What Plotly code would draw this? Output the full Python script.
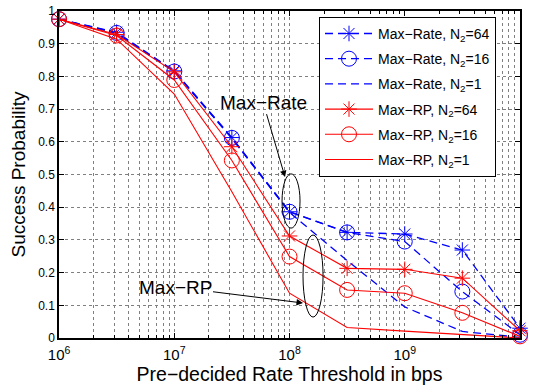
import plotly.graph_objects as go

# Pre-decided rate thresholds (bps) and success probabilities per scheme
thresholds = [1e6, 3.16e6, 1e7, 3.16e7, 1e8, 3.16e8, 1e9, 3.16e9, 1e10]

maxrate_n64 = [0.975, 0.935, 0.817, 0.613, 0.386, 0.323, 0.318, 0.269, 0.030]
maxrate_n16 = [0.975, 0.933, 0.815, 0.612, 0.386, 0.323, 0.295, 0.142, 0.010]
maxrate_n1 = [0.975, 0.932, 0.815, 0.610, 0.384, 0.237, 0.095, 0.020, 0.002]

maxrp_n64 = [0.975, 0.928, 0.814, 0.585, 0.312, 0.213, 0.210, 0.183, 0.022]
maxrp_n16 = [0.975, 0.925, 0.789, 0.543, 0.249, 0.147, 0.137, 0.077, 0.005]
maxrp_n1 = [0.975, 0.914, 0.746, 0.447, 0.137, 0.032, 0.021, 0.011, 0.000]

y_ticks = [0, 0.1, 0.2, 0.3, 0.4, 0.5, 0.6, 0.7, 0.8, 0.9, 1]
y_tick_text = ["0", "0.1", "0.2", "0.3", "0.4", "0.5", "0.6", "0.7", "0.8", "0.9", "1"]

BLUE = "#0000ff"
RED = "#ff0000"
FONT = "Liberation Sans, Arial, sans-serif"

fig = go.Figure()

series = [
    ("Max\u2212Rate, N<sub>2</sub>=64", maxrate_n64, BLUE, "8px,5px", "asterisk-open", 13),
    ("Max\u2212Rate, N<sub>2</sub>=16", maxrate_n16, BLUE, "8px,5px", "circle-open", 15),
    ("Max\u2212Rate, N<sub>2</sub>=1", maxrate_n1, BLUE, "8px,5px", None, 0),
    ("Max\u2212RP, N<sub>2</sub>=64", maxrp_n64, RED, "solid", "asterisk-open", 13),
    ("Max\u2212RP, N<sub>2</sub>=16", maxrp_n16, RED, "solid", "circle-open", 15),
    ("Max\u2212RP, N<sub>2</sub>=1", maxrp_n1, RED, "solid", None, 0),
]

for i, (name, vals, color, dash, symbol, size) in enumerate(series):
    kw = dict(mode="lines")
    if symbol:
        kw = dict(mode="lines+markers",
                  marker=dict(symbol=symbol, size=size, color=color,
                              line=dict(color=color, width=1)))
    fig.add_trace(go.Scatter(
        x=thresholds, y=vals, name=name, legendgroup=f"g{i}",
        line=dict(color=color, width=1.3 if color == BLUE else 1.1, dash=dash),
        cliponaxis=False, **kw))

# Ellipses grouping the curves at 100 Mbps
fig.add_shape(type="circle", xref="x", yref="y",
              x0=10**7.935, x1=10**8.091, y0=0.336, y1=0.502,
              line=dict(color="black", width=1))
fig.add_shape(type="circle", xref="x", yref="y",
              x0=10**8.117, x1=10**8.291, y0=0.064, y1=0.315,
              line=dict(color="black", width=1))

fig.add_annotation(x=7.961, y=0.492, xref="x", yref="y",
                   text="Max\u2212Rate", showarrow=True, ax=-22, ay=-75,
                   arrowhead=2, arrowsize=1.3, arrowwidth=1, arrowcolor="black",
                   font=dict(family=FONT, size=19, color="black"))
fig.add_annotation(x=8.117, y=0.107, xref="x", yref="y",
                   text="Max\u2212RP", showarrow=True, ax=-128, ay=-16,
                   arrowhead=2, arrowsize=1.3, arrowwidth=1, arrowcolor="black",
                   font=dict(family=FONT, size=19, color="black"))

GRID = "#808080"

fig.update_xaxes(
    type="log", range=[5.9995, 10], dtick=1, tick0=0, exponentformat="power",
    showline=True, linecolor="black", linewidth=1.5, mirror="allticks",
    ticks="inside", ticklen=5, tickcolor="black", ticklabelstandoff=3,
    showgrid=True, gridcolor=GRID, griddash="dot", gridwidth=1,
    minor=dict(ticks="inside", ticklen=3, tickcolor="black", dtick="D1",
               showgrid=True, gridcolor=GRID, griddash="dot", gridwidth=1),
    tickfont=dict(family=FONT, size=12, color="black"),
    title=dict(text="Pre\u2212decided Rate Threshold in bps",
               font=dict(family=FONT, size=19.5, color="black"), standoff=2),
    zeroline=False, automargin=False,
)
fig.update_yaxes(
    range=[0, 1], tickvals=y_ticks, ticktext=y_tick_text,
    showline=True, linecolor="black", linewidth=1.5, mirror="allticks",
    ticks="inside", ticklen=5, tickcolor="black",
    showgrid=True, gridcolor=GRID, griddash="dot", gridwidth=1,
    tickfont=dict(family=FONT, size=12, color="black"),
    title=dict(text="Success Probability",
               font=dict(family=FONT, size=19, color="black"), standoff=8),
    zeroline=False, automargin=False,
)

fig.update_layout(
    width=533, height=389,
    margin=dict(l=59, r=13, t=11, b=51, autoexpand=False),
    plot_bgcolor="white", paper_bgcolor="white",
    font=dict(family=FONT, color="black"),
    legend=dict(x=0.564, y=0.982, xanchor="left", yanchor="top",
                bgcolor="white", bordercolor="black", borderwidth=1,
                font=dict(family=FONT, size=14, color="black"),
                itemwidth=48, tracegroupgap=4),
)

fig.write_html("out.html")
